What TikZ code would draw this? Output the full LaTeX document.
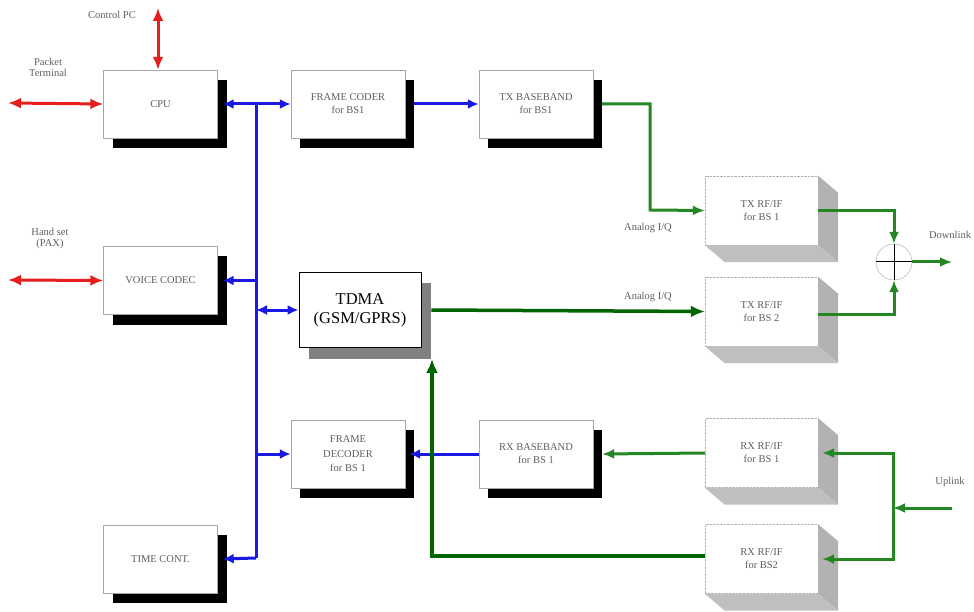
\documentclass[tikz,border=0pt]{standalone}
\usepackage{fontspec}
\setmainfont{Liberation Serif}
\usetikzlibrary{arrows.meta,shadows,calc}
\definecolor{cred}{RGB}{230,30,30}
\definecolor{cblue}{RGB}{25,25,225}
\definecolor{cgreen}{RGB}{35,135,35}
\definecolor{dgreen}{RGB}{0,100,0}
\definecolor{txtc}{RGB}{95,95,95}
\tikzset{
  sbox/.style={draw=gray!70, fill=white, minimum width=114pt, minimum height=68pt,
    font=\fontsize{10.5}{13}\selectfont, align=center, text=txtc,
    general shadow={fill=black, shadow xshift=9pt, shadow yshift=-10pt}},
  rfbox/.style={draw=gray!60, densely dotted, fill=white, minimum width=113pt, minimum height=69pt,
    font=\fontsize{10.5}{13}\selectfont, align=center, text=txtc},
  lbl/.style={font=\fontsize{10.5}{11}\selectfont, align=center, text=txtc},
  redarr/.style={draw=cred, line width=3pt, {Latex[length=13pt,width=11pt]}-{Latex[length=13pt,width=11pt]}},
  bluel/.style={draw=cblue, line width=3pt},
  bluearr/.style={bluel, -{Latex[length=11pt,width=10pt]}},
  greenl/.style={draw=cgreen, line width=3pt},
  greenarr/.style={greenl, -{Latex[length=12pt,width=10pt]}},
  dgreenarr/.style={draw=dgreen, line width=3.5pt, -{Latex[length=14pt,width=12pt]}},
}
\newcommand\cubeside[1]{%
  \fill[gray!60] (#1.north east) -- ([shift={(20pt,-17pt)}]#1.north east) -- ([shift={(20pt,-17pt)}]#1.south east) -- (#1.south east) -- cycle;
  \fill[gray!50] (#1.south west) -- ([shift={(20pt,-17pt)}]#1.south west) -- ([shift={(20pt,-17pt)}]#1.south east) -- (#1.south east) -- cycle;
}
\begin{document}
\begin{tikzpicture}[x=1pt,y=-1pt]
\useasboundingbox[fill=white] (0,0) rectangle (974,612);

% coordinates
\coordinate (pt) at (8,103);
\coordinate (hs) at (8,280);
\coordinate (pc) at (158,8);
\coordinate (bt) at (256,103);
\coordinate (bb) at (256,558);
\coordinate (bend1) at (650,210);
\coordinate (dl) at (952,262);
\coordinate (ul) at (952,508);
\coordinate (uj) at (893,508);
\coordinate (tdmash) at (432,359);

% boxes
\node[sbox] (cpu) at (160.5,104) {CPU};
\node[sbox] (fc) at (348,104) {FRAME CODER\\for BS1};
\node[sbox] (txbb) at (536,104) {TX BASEBAND\\for BS1};
\node[sbox] (vc) at (160.5,280.5) {VOICE CODEC};
\node[sbox, font=\fontsize{10.5}{14.5}\selectfont] (fd) at (348,454) {FRAME\\DECODER\\for BS 1};
\node[sbox] (rxbb) at (536,454) {RX BASEBAND\\for BS 1};
\node[sbox] (tc) at (160.5,559) {TIME CONT.};
\node[draw=black, thick, fill=white, minimum width=122pt, minimum height=75pt, align=center,
  font=\fontsize{16.5}{19}\selectfont,
  general shadow={fill=gray, shadow xshift=10pt, shadow yshift=-11pt}] (tdma) at (360,310) {TDMA\\(GSM/GPRS)};

\node[rfbox] (txrf1) at (761.5,210.5) {TX RF/IF\\for BS 1};
\node[rfbox] (txrf2) at (761.5,311.5) {TX RF/IF\\for BS 2};
\node[rfbox] (rxrf1) at (761.5,453) {RX RF/IF\\for BS 1};
\node[rfbox] (rxrf2) at (761.5,559) {RX RF/IF\\for BS2};
\cubeside{txrf1}\cubeside{txrf2}\cubeside{rxrf1}\cubeside{rxrf2}

\node[draw=gray!70, circle, minimum size=36pt, inner sep=0pt] (sum) at (894,262) {};
\draw[black, line width=1pt] (sum.north) -- (sum.south) (sum.west) -- (sum.east);

% labels
\node[lbl] (lpc) at (112,15) {Control PC};
\node[lbl] (lpt) at (48,67) {Packet\\Terminal};
\node[lbl] (lhs) at (50,238) {Hand set\\(PAX)};
\node[lbl] (laq1) at (648,228) {Analog I/Q};
\node[lbl] (laq2) at (648,297) {Analog I/Q};
\node[lbl] (ldl) at (950,235) {Downlink};
\node[lbl] (lul) at (950,482) {Uplink};

% red
\draw[redarr] (pt) -- (cpu.west);
\draw[redarr] (hs) -- (vc.west);
\draw[redarr] (pc) -- (pc |- cpu.north);

% blue
\draw[bluel] (bt) -- (bb);
\draw[bluel, {Latex[length=11pt,width=10pt]}-{Latex[length=11pt,width=10pt]}] ([xshift=5pt]cpu.east) -- (fc.west);
\draw[bluearr] ([xshift=9pt]fc.east) -- (txbb.west);
\draw[bluearr] (bt |- vc.east) -- ([xshift=5pt]vc.east);
\draw[bluel, {Latex[length=11pt,width=10pt]}-{Latex[length=11pt,width=10pt]}] (bt |- tdma.west) -- (tdma.west);
\draw[bluearr] (bt |- fd.west) -- (fd.west);
\draw[bluearr] (rxbb.west) -- ([xshift=4pt]fd.east);
\draw[bluearr] (bb) -- ([xshift=5pt]tc.east);

% green
\draw[greenarr] ([xshift=9pt]txbb.east) -| (bend1) -- (txrf1.west);
\draw[greenarr] (txrf1.east) -| (sum.north);
\draw[greenarr] ([yshift=-3pt]txrf2.east) -| (sum.south);
\draw[greenarr] (sum.east) -- (dl);
\draw[greenarr] (ul) -- (uj);
\draw[greenarr] (uj) |- ([xshift=4pt]rxrf1.east);
\draw[greenarr] (uj) |- ([xshift=4pt]rxrf2.east);
\draw[greenarr] (rxrf1.west) -- ([xshift=9pt]rxbb.east);
\draw[dgreenarr] ([xshift=10pt]tdma.east) -- (txrf2.west);
\draw[dgreenarr] ([yshift=3pt]rxrf2.west) -| (tdmash);
\end{tikzpicture}
\end{document}
